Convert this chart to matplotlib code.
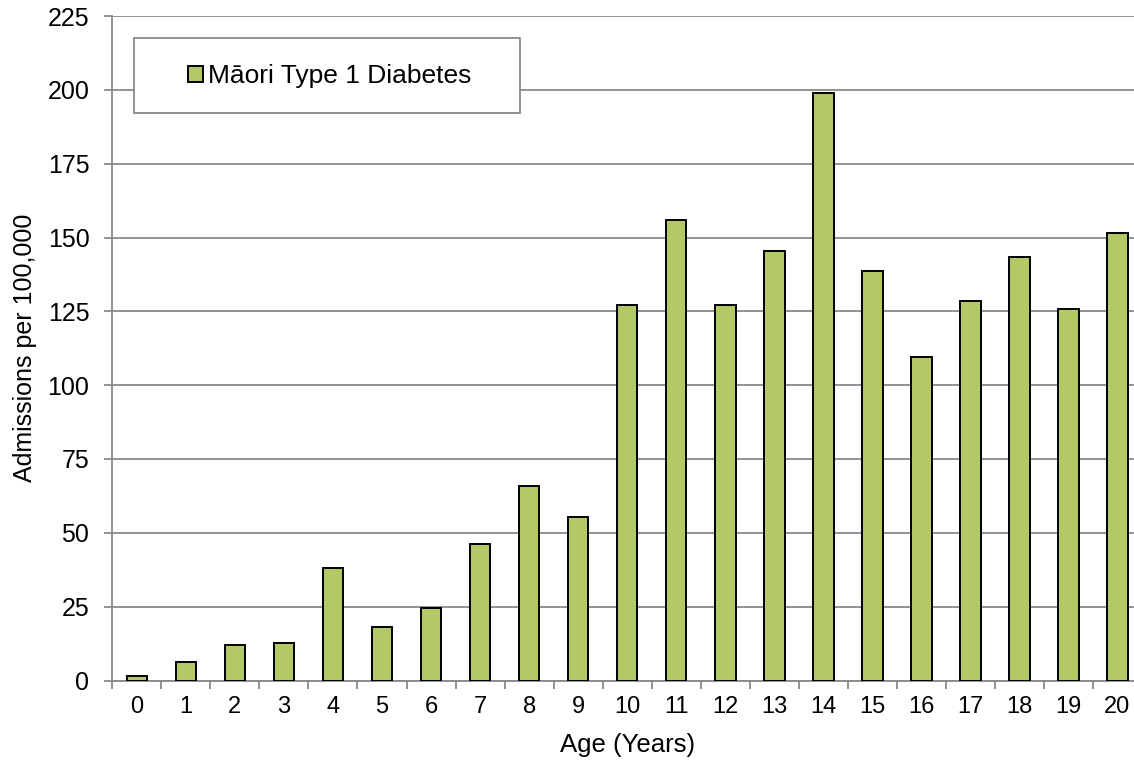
# Maori type 1 diabetes admissions by single year of age

import matplotlib.pyplot as plt
import matplotlib.patches as mpatches
import numpy as np

plt.rcParams['font.family'] = ['Liberation Sans', 'DejaVu Sans']

ages = [str(a) for a in range(21)]
rates = [1.5, 6.1, 12.0, 12.7, 38.2, 18.0, 24.5, 46.2, 66.0, 55.2, 127.0,
         156.0, 127.0, 145.5, 198.8, 138.8, 109.4, 128.4, 143.5, 125.7, 151.4]
series_name = "Māori Type 1 Diabetes"
y_ticks = list(range(0, 226, 25))

W, H = 1134, 760
fig = plt.figure(figsize=(W / 100, H / 100), dpi=100)
# axes run a little past the right edge of the figure
left, right, top, bottom = 112.3, 1142, 16, 680.5
ax = fig.add_axes([left / W, (H - bottom) / H, (right - left) / W, (bottom - top) / H])

grey = '#898989'
x = np.arange(len(ages))
ax.bar(x, rates, width=0.42, color='#b3c966', edgecolor='black', linewidth=1.4,
       zorder=3, label=series_name)

ax.set_xlim(-0.5, len(ages) - 0.5)
ax.set_ylim(0, 225)
ax.set_yticks(y_ticks)
ax.set_xticks(x)
ax.set_xticklabels(ages)
ax.set_xticks(np.arange(-0.5, len(ages), 1.0), minor=True)

ax.yaxis.grid(True, color=grey, linewidth=1.3, zorder=0)
ax.set_axisbelow(True)
for side in ['top', 'right']:
    ax.spines[side].set_visible(False)
for side in ['left', 'bottom']:
    ax.spines[side].set_color(grey)
    ax.spines[side].set_linewidth(1.3)

ax.tick_params(axis='y', direction='out', length=6, width=1.3, color=grey,
               labelsize=18, pad=10.5)
ax.tick_params(axis='x', which='major', length=0, labelsize=17, pad=11)
ax.tick_params(axis='x', which='minor', direction='out', length=5.5, width=1.3, color=grey)

ax.set_xlabel("Age (Years)", fontsize=18.5, labelpad=11)
ax.set_ylabel("Admissions per 100,000", fontsize=18, va='center')
ax.yaxis.set_label_coords((25 - left) / (right - left), 0.5)

# legend box
box = mpatches.Rectangle((134 / W, (H - 113) / H), 386 / W, 75 / H,
                         transform=fig.transFigure, facecolor='white',
                         edgecolor=grey, linewidth=1.3, zorder=5)
fig.patches.append(box)
leg = fig.legend(loc='center left', bbox_to_anchor=(175 / W, (H - 76) / H),
                 frameon=False, fontsize=19, handlelength=0.55, handleheight=0.55,
                 handletextpad=0.2, borderpad=0)
leg.set_zorder(6)

fig.savefig('out.png', dpi=100)
